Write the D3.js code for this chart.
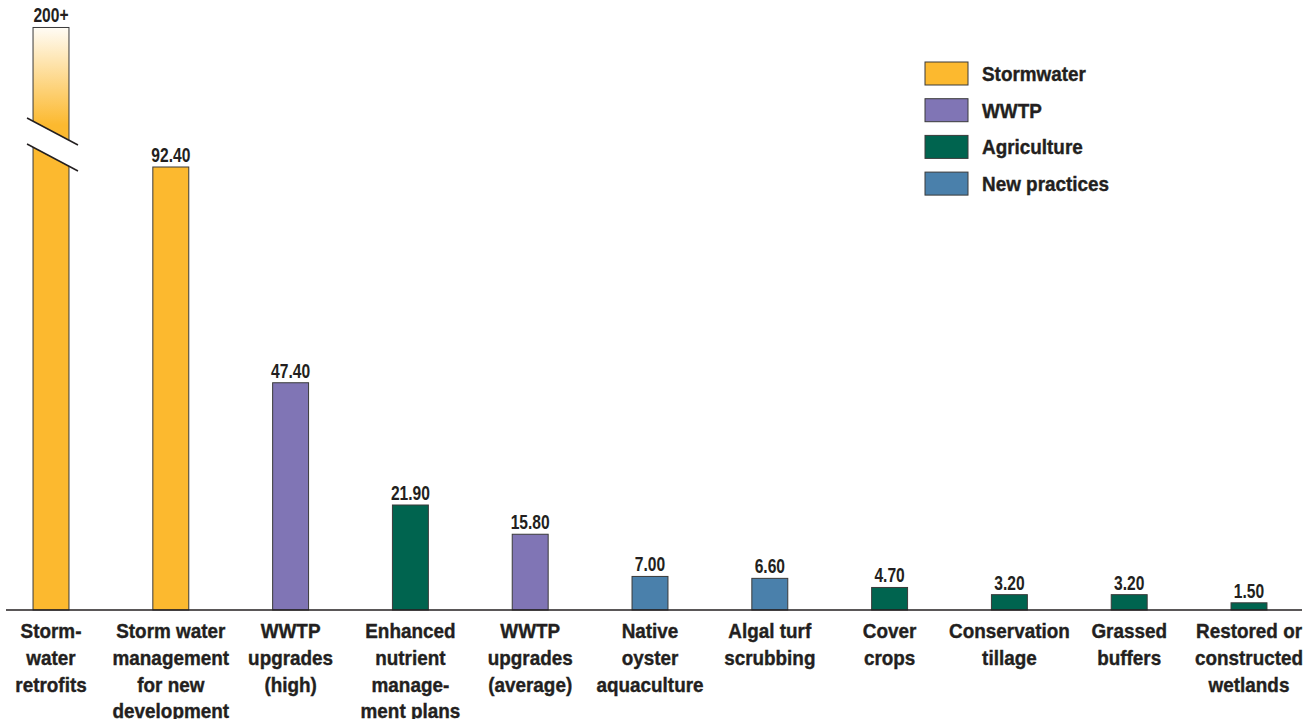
<!DOCTYPE html>
<html>
<head>
<meta charset="utf-8">
<script src="https://cdn.jsdelivr.net/npm/d3@7"></script>
<style>
  body { margin: 0; background: #fff; }
  text { font-family: "Liberation Sans", Arial, sans-serif; font-weight: bold; fill: #231f20; }
  text.cat, .legend text { stroke: #231f20; stroke-width: 0.4px; }
</style>
</head>
<body>
<div id="chart"></div>
<script>
// cost per pound of nitrogen removed, by practice
var labels = [
    ["Storm-", "water", "retrofits"],
    ["Storm water", "management", "for new", "development"],
    ["WWTP", "upgrades", "(high)"],
    ["Enhanced", "nutrient", "manage-", "ment plans"],
    ["WWTP", "upgrades", "(average)"],
    ["Native", "oyster", "aquaculture"],
    ["Algal turf", "scrubbing"],
    ["Cover", "crops"],
    ["Conservation", "tillage"],
    ["Grassed", "buffers"],
    ["Restored or", "constructed", "wetlands"]
];
var values = [200, 92.40, 47.40, 21.90, 15.80, 7.00, 6.60, 4.70, 3.20, 3.20, 1.50];
var valueText = ["200+", "92.40", "47.40", "21.90", "15.80", "7.00", "6.60", "4.70", "3.20", "3.20", "1.50"];
var groups = ["Stormwater", "Stormwater", "WWTP", "Agriculture", "WWTP", "New practices",
    "New practices", "Agriculture", "Agriculture", "Agriculture", "Agriculture"];

var legendNames = ["Stormwater", "WWTP", "Agriculture", "New practices"];
var legendColors = ["#fcb92f", "#8075b5", "#00644f", "#4a80ab"];

// bars taller than this get drawn broken
var breakCap = 121.5;

var width = 1315, height = 719;
var base = 610;
// no condensed face installed, so squeeze the text a bit
var squeeze = "scale(0.9,1)";

var svg = d3.select("#chart").append("svg")
    .attr("width", width)
    .attr("height", height);

var data = values.map(function(v, i) {
    return { id: i, value: v, label: valueText[i], lines: labels[i], group: groups[i] };
});

var x = d3.scaleBand()
    .domain(d3.range(data.length))
    .range([-8.9, 1308.9])
    .paddingInner(0.7)
    .paddingOuter(0.35);

var y = d3.scaleLinear()
    .domain([0, 92.4])
    .range([base, 167]);

var color = d3.scaleOrdinal()
    .domain(legendNames)
    .range(legendColors);

// fade for the broken bar
var grad = svg.append("defs").append("linearGradient")
    .attr("id", "fade")
    .attr("gradientUnits", "userSpaceOnUse")
    .attr("x1", 0).attr("x2", 0)
    .attr("y1", y(breakCap)).attr("y2", 125);
grad.append("stop").attr("offset", "0%").attr("stop-color", "#fffcf5");
grad.append("stop").attr("offset", "100%").attr("stop-color", color("Stormwater"));

svg.selectAll("rect.bar")
    .data(data)
    .enter()
    .append("rect")
    .attr("class", "bar")
    .attr("x", function(d) { return x(d.id); })
    .attr("width", x.bandwidth())
    .attr("y", function(d) { return y(Math.min(d.value, breakCap)); })
    .attr("height", function(d) { return base - y(Math.min(d.value, breakCap)); })
    .attr("fill", function(d) {
        if (d.value > breakCap) {
            return "url(#fade)";
        }
        return color(d.group);
    })
    .attr("stroke", "#3a3a3a")
    .attr("stroke-width", 1);

// axis break on the tall bar
data.filter(function(d) { return d.value > breakCap; }).forEach(function(d) {
    var x0 = x(d.id) - 6, x1 = x(d.id) + x.bandwidth() + 9;
    var top1 = 118, drop = 27, gap = 26;
    svg.append("polygon")
        .attr("points", [[x0, top1], [x1, top1 + drop], [x1, top1 + drop + gap], [x0, top1 + gap]].join(" "))
        .attr("fill", "#fff");
    [0, gap].forEach(function(off) {
        svg.append("line")
            .attr("x1", x0).attr("y1", top1 + off)
            .attr("x2", x1).attr("y2", top1 + drop + off)
            .attr("stroke", "#231f20")
            .attr("stroke-width", 1.5);
    });
});

// value labels
svg.selectAll("text.value")
    .data(data)
    .enter()
    .append("text")
    .attr("class", "value")
    .attr("text-anchor", "middle")
    .style("font-size", "20px")
    .attr("transform", function(d) {
        return "translate(" + (x(d.id) + x.bandwidth() / 2) + "," + (y(Math.min(d.value, breakCap)) - 5) + ") scale(0.78,1)";
    })
    .text(function(d) { return d.label; });

// baseline
svg.append("line")
    .attr("x1", 6).attr("x2", 1302)
    .attr("y1", base).attr("y2", base)
    .attr("stroke", "#231f20")
    .attr("stroke-width", 1.5);

// category labels
var cat = svg.selectAll("text.cat")
    .data(data)
    .enter()
    .append("text")
    .attr("class", "cat")
    .attr("text-anchor", "middle")
    .style("font-size", "21px")
    .attr("transform", function(d) {
        return "translate(" + (x(d.id) + x.bandwidth() / 2) + "," + (base + 28) + ") " + squeeze;
    });

cat.selectAll("tspan")
    .data(function(d) { return d.lines; })
    .enter()
    .append("tspan")
    .attr("x", 0)
    .attr("y", function(d, i) { return i * 26.8; })
    .text(function(d) { return d; });

// legend
var legend = svg.selectAll("g.legend")
    .data(legendNames)
    .enter()
    .append("g")
    .attr("class", "legend")
    .attr("transform", function(d, i) { return "translate(925," + (62 + i * 36.7) + ")"; });

legend.append("rect")
    .attr("width", 43)
    .attr("height", 23)
    .attr("fill", function(d) { return color(d); })
    .attr("stroke", "#3a3a3a")
    .attr("stroke-width", 1);

legend.append("text")
    .attr("transform", "translate(57,19) " + squeeze)
    .style("font-size", "21px")
    .text(function(d) { return d; });
</script>
</body>
</html>
